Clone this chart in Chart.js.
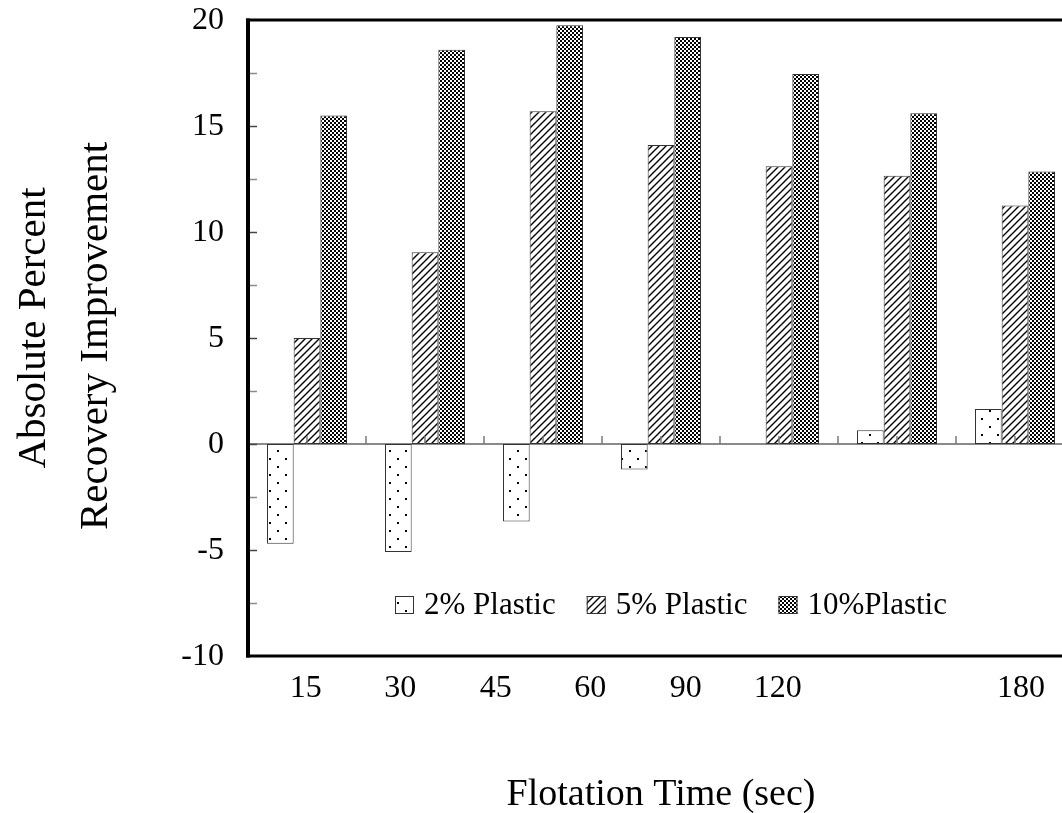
<!DOCTYPE html>
<html>
<head>
<meta charset="utf-8">
<script src="https://cdn.jsdelivr.net/npm/chart.js@4.4.1/dist/chart.umd.min.js"></script>
<style>
  html, body { margin: 0; padding: 0; background: #fff; overflow: hidden; }
  #wrap { width: 1062px; height: 813px; overflow: hidden; }
</style>
</head>
<body>
<div id="wrap"><canvas id="chart" width="1090" height="813"></canvas></div>
<script>
// Flotation time categories and recovery improvement per plastic dosage
const categories = ["15", "30", "45", "60", "90", "120", "180"];
const plastic2 = [-4.7, -5.1, -3.65, -1.2, 0, 0.65, 1.65];
const plastic5 = [5.0, 9.05, 15.7, 14.1, 13.1, 12.65, 11.25];
const plastic10 = [15.5, 18.6, 19.75, 19.2, 17.45, 15.6, 12.85];
const seriesLabels = ["2% Plastic", "5% Plastic", "10%Plastic"];
const yTicks = [-10, -5, 0, 5, 10, 15, 20];

// where the x labels sit, in category widths from the left axis (they drift off the bars in the original)
const labelAt = [0.49, 1.29, 2.1, 2.9, 3.71, 4.49, 6.55];

const FONT = "'Liberation Serif', 'Times New Roman', serif";

function makeTile(size, paint) {
  const c = document.createElement("canvas");
  c.width = size;
  c.height = size;
  const g = c.getContext("2d");
  g.fillStyle = "#fff";
  g.fillRect(0, 0, size, size);
  g.fillStyle = "#000";
  g.strokeStyle = "#000";
  paint(g, size);
  return c;
}

const ctx = document.getElementById("chart").getContext("2d");

const dotPattern = ctx.createPattern(makeTile(16, (g) => {
  g.fillRect(5, 2, 2, 2);
  g.fillRect(13, 10, 2, 2);
}), "repeat");

const hatchPattern = ctx.createPattern(makeTile(7, (g, s) => {
  g.lineWidth = 1.4;
  g.beginPath();
  g.moveTo(-1, s + 1); g.lineTo(s + 1, -1);
  g.moveTo(-1, 1); g.lineTo(1, -1);
  g.moveTo(s - 1, s + 1); g.lineTo(s + 1, s - 1);
  g.stroke();
}), "repeat");

const checkPattern = ctx.createPattern(makeTile(4, (g) => {
  g.fillRect(0, 0, 2, 2);
  g.fillRect(2, 2, 2, 2);
  g.fillRect(1, 1, 1, 1);
}), "repeat");

const fills = [dotPattern, hatchPattern, checkPattern];

const framePlugin = {
  id: "frame",
  beforeDatasetsDraw(chart) {
    const { ctx, chartArea } = chart;
    const y0 = chart.scales.y.getPixelForValue(0);
    ctx.save();
    ctx.strokeStyle = "#8a8a8a";
    ctx.lineWidth = 2;
    ctx.beginPath();
    ctx.moveTo(chartArea.left, y0);
    ctx.lineTo(chartArea.right, y0);
    ctx.stroke();
    ctx.restore();
  },
  afterDatasetsDraw(chart) {
    const { ctx, chartArea, scales } = chart;
    const x = scales.x;
    const y = scales.y;
    const y0 = y.getPixelForValue(0);
    const cw = (chartArea.right - chartArea.left) / categories.length;

    ctx.save();
    // small ticks on the zero line at category centres and boundaries
    ctx.strokeStyle = "#7a7a7a";
    ctx.lineWidth = 1.5;
    ctx.beginPath();
    categories.forEach((c, i) => {
      const cx = x.getPixelForValue(i);
      ctx.moveTo(cx, y0);
      ctx.lineTo(cx, y0 - 8);
      ctx.moveTo(cx + cw / 2, y0);
      ctx.lineTo(cx + cw / 2, y0 - 8);
    });
    ctx.stroke();

    // inward y ticks every 2.5
    for (let v = -7.5; v < 20; v += 2.5) {
      const py = Math.round(y.getPixelForValue(v)) + 0.5;
      const major = yTicks.includes(v);
      ctx.strokeStyle = major ? "#444" : "#8a8a8a";
      ctx.lineWidth = 1.5;
      ctx.beginPath();
      ctx.moveTo(chartArea.left, py);
      ctx.lineTo(chartArea.left + 9, py);
      ctx.stroke();
    }

    // frame
    ctx.strokeStyle = "#000";
    ctx.lineWidth = 3;
    ctx.beginPath();
    ctx.moveTo(chartArea.left - 2, chartArea.top);
    ctx.lineTo(chartArea.right, chartArea.top);
    ctx.moveTo(chartArea.left - 2, chartArea.bottom);
    ctx.lineTo(chartArea.right, chartArea.bottom);
    ctx.stroke();
    ctx.lineWidth = 4;
    ctx.beginPath();
    ctx.moveTo(chartArea.left, chartArea.top - 1.5);
    ctx.lineTo(chartArea.left, chartArea.bottom + 1.5);
    ctx.stroke();

    // y tick labels
    ctx.fillStyle = "#000";
    ctx.font = `32px ${FONT}`;
    ctx.textAlign = "right";
    ctx.textBaseline = "middle";
    yTicks.forEach((v) => {
      ctx.fillText(String(v), 224, y.getPixelForValue(v) + 1);
    });

    // x tick labels
    ctx.textAlign = "center";
    categories.forEach((c, i) => {
      ctx.fillText(c, chartArea.left + labelAt[i] * cw, 689);
    });

    // axis titles
    ctx.font = `38px ${FONT}`;
    ctx.textBaseline = "alphabetic";
    ctx.fillText("Flotation Time (sec)", 661, 805);

    ctx.save();
    ctx.rotate(-Math.PI / 2);
    ctx.font = `41px ${FONT}`;
    ctx.textBaseline = "middle";
    ctx.fillText("Absolute Percent", -328, 34);
    ctx.fillText("Recovery Improvement", -336, 96);
    ctx.restore();

    // legend inside the plot
    ctx.font = `31px ${FONT}`;
    ctx.textAlign = "left";
    ctx.textBaseline = "middle";
    let lx = 395;
    const ly = 605;
    chart.data.datasets.forEach((ds) => {
      ctx.fillStyle = ds.backgroundColor;
      ctx.fillRect(lx, ly - 9, 19, 18);
      ctx.strokeStyle = "#333";
      ctx.lineWidth = 1;
      ctx.strokeRect(lx + 0.5, ly - 8.5, 18, 17);
      ctx.fillStyle = "#000";
      ctx.fillText(ds.label, lx + 29, ly + 1);
      lx += 29 + ctx.measureText(ds.label).width + 31;
    });
    ctx.restore();
  },
};

new Chart(ctx, {
  type: "bar",
  data: {
    labels: categories,
    datasets: [plastic2, plastic5, plastic10].map((values, i) => ({
      label: seriesLabels[i],
      data: values,
      backgroundColor: fills[i],
      borderColor: "#333",
      borderWidth: 1,
      borderSkipped: false,
      categoryPercentage: 0.678,
      barPercentage: 1,
    })),
  },
  options: {
    responsive: false,
    animation: false,
    devicePixelRatio: 1,
    layout: { padding: { left: 248, right: 16, top: 20, bottom: 157 } },
    plugins: {
      legend: { display: false },
      tooltip: { enabled: false },
    },
    scales: {
      x: { display: false },
      y: { display: false, min: -10, max: 20 },
    },
  },
  plugins: [framePlugin],
});
</script>
</body>
</html>
